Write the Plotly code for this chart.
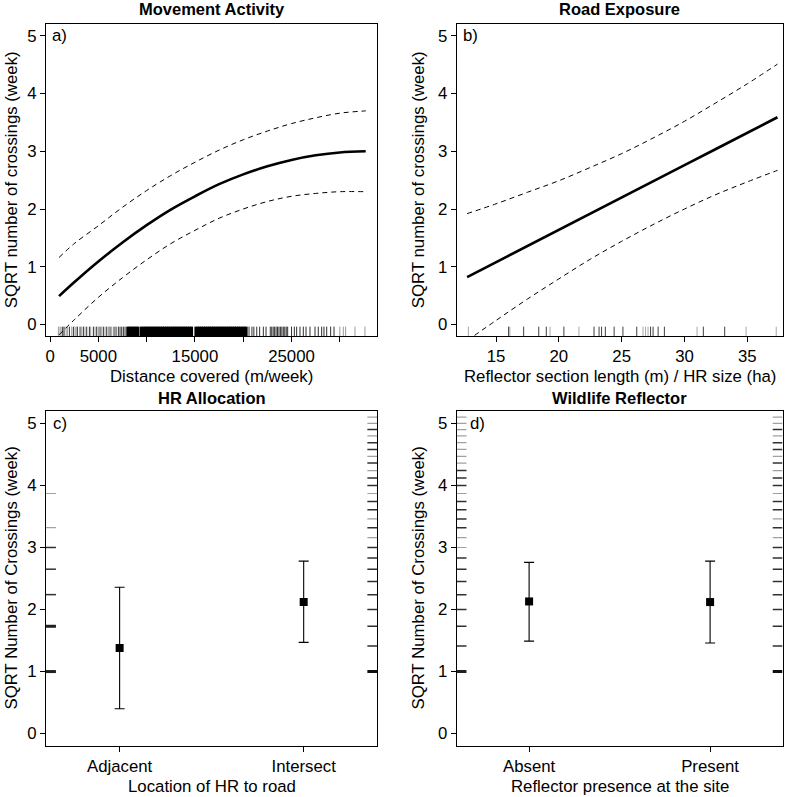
import plotly.graph_objects as go

# ---------------- data ----------------
# Panel a: Movement Activity
dist_x = [930, 2500, 5000, 7500, 10000, 12500, 15000, 17500, 20000, 22500, 25000, 27500, 30000, 32680]
dist_fit = [0.49, 0.73, 1.09, 1.42, 1.72, 1.99, 2.22, 2.43, 2.60, 2.74, 2.85, 2.93, 2.98, 3.00]
dist_upper = [1.16, 1.40, 1.71, 2.03, 2.32, 2.58, 2.81, 3.02, 3.20, 3.35, 3.48, 3.58, 3.66, 3.70]
dist_lower = [-0.18, 0.08, 0.47, 0.81, 1.12, 1.40, 1.63, 1.84, 2.00, 2.13, 2.22, 2.27, 2.30, 2.30]
dist_rug_gray = [862, 1035, 1140, 1656, 1794, 2243, 2588, 2691, 3278, 3623, 4209, 4658, 5003, 5348,
                 5693, 6038, 6383, 30000, 30360, 30600, 31570, 32600]
dist_rug_dark = [1310, 1450, 2001, 2415, 2829, 3105, 3450, 3795, 4071, 4485, 4830, 5175, 5520, 5865,
                 6210, 6624, 6831, 7073, 7245, 7418, 7590, 7763, 7935,
                 20600, 20900, 21100, 21400, 21700, 22080, 22360,
                 22800, 22950, 23100, 23250, 23400, 23550, 23700, 23850, 24000, 24150, 24300, 24450, 24600,
                 25000, 25290, 25530, 25875, 26220, 26500, 26910, 27430, 27770, 28120, 28360, 28640,
                 29050, 29400]
dist_rug_dense = [8100, 8300, 8500, 8700, 8900, 9100, 9450, 9650, 9850, 10050, 10250, 10450, 10650,
                  10850, 11050, 11250, 11450, 11650, 11850, 12050, 12250, 12450, 12650, 12850, 13050,
                  13250, 13450, 13650, 13850, 14050, 14250, 14450, 14650, 15100, 15300, 15500, 15700,
                  15900, 16100, 16300, 16500, 16700, 16900, 17100, 17300, 17500, 17700, 17900, 18100,
                  18300, 18500, 18700, 18900, 19100, 19300, 19500, 19700, 19900, 20100, 20300]
dist_ticks = [0, 5000, 10000, 15000, 20000, 25000, 30000]
dist_ticklabels = ["0", "5000", "", "15000", "", "25000", ""]

# Panel b: Road Exposure
refl_x = [12.7, 15, 17.5, 20, 22.5, 25, 27.5, 30, 32.5, 35, 37.4]
refl_fit = [0.82, 1.08, 1.36, 1.64, 1.92, 2.20, 2.48, 2.76, 3.04, 3.32, 3.59]
refl_upper = [1.92, 2.09, 2.29, 2.49, 2.72, 2.96, 3.23, 3.52, 3.84, 4.17, 4.51]
refl_lower = [-0.28, 0.07, 0.44, 0.79, 1.13, 1.44, 1.73, 2.00, 2.25, 2.47, 2.67]
refl_rug_gray = [12.8, 16.1, 19.3, 21.6, 26.7, 26.9, 27.1, 31.0, 34.9, 37.3]
refl_rug_dark = [16.0, 17.2, 18.4, 19.0, 20.4, 22.8, 23.2, 23.4, 23.7, 24.4, 25.1, 26.2, 27.3, 27.5,
                 27.9, 28.4, 31.5, 33.2]
refl_ticks = [15, 20, 25, 30, 35]

# Panel c: HR Allocation
hr_cats = ["Adjacent", "Intersect"]
hr_mean = [1.38, 2.12]
hr_upper = [2.36, 2.78]
hr_lower = [0.40, 1.47]
hr_rug_left_thick = [1.00, 1.73]
hr_rug_left_dark = [2.24, 2.65, 3.00]
hr_rug_left_gray = [3.32, 3.87]
hr_rug_right_thick = [1.00]
hr_rug_right_dark = [1.41, 1.73, 2.00, 2.24, 2.45, 2.65, 2.83, 3.00, 3.32, 3.61, 3.74, 4.00, 4.12,
                     4.36, 4.58, 4.69, 4.90]
hr_rug_right_gray = [3.16, 3.46, 3.87, 4.24, 4.47, 4.80, 5.00, 5.10]

# Panel d: Wildlife Reflector
wr_cats = ["Absent", "Present"]
wr_mean = [2.13, 2.12]
wr_upper = [2.76, 2.78]
wr_lower = [1.49, 1.46]
wr_rug_left_thick = [1.00]
wr_rug_left_dark = [1.41, 1.73, 2.00, 2.24, 2.45, 2.65, 2.83, 3.32, 3.46, 3.61, 3.74, 4.00, 4.12, 4.24]
wr_rug_left_gray = [3.00, 3.16, 3.87, 4.36, 4.47, 4.58, 4.69, 4.80, 4.90, 5.00, 5.10]
wr_rug_right_thick = [1.00]
wr_rug_right_dark = [1.41, 1.73, 2.00, 2.24, 2.45, 2.65, 2.83, 3.00, 3.32, 3.61, 3.74, 4.00, 4.12,
                     4.36, 4.58, 4.69, 4.90]
wr_rug_right_gray = [3.16, 3.46, 3.87, 4.24, 4.47, 4.80, 5.00, 5.10]

y_ticks = [0, 1, 2, 3, 4, 5]

# ---------------- layout geometry ----------------
W, H = 789, 797
TOP_BOX = (24.3, 336.0)
BOT_BOX = (411.0, 746.0)
XD_L = [46 / W, 377.3 / W]
XD_R = [456.7 / W, 782.5 / W]
YD_T = [1 - TOP_BOX[1] / H, 1 - TOP_BOX[0] / H]
YD_B = [1 - BOT_BOX[1] / H, 1 - BOT_BOX[0] / H]
Y_RANGE = [-0.2, 5.2]
A_RANGE = [-420, 33880]
B_RANGE = [11.87, 37.80]
C_RANGE = [0.6, 2.4]

FONT = "Liberation Sans, Arial, sans-serif"
FS = 16.8

fig = go.Figure()


def vrug(values, y0, y1):
    xs, ys = [], []
    for v in values:
        xs += [v, v, None]
        ys += [y0, y1, None]
    return xs, ys


def hrug(values, x0, x1):
    xs, ys = [], []
    for v in values:
        xs += [x0, x1, None]
        ys += [v, v, None]
    return xs, ys


def add_line(x, y, ax, width, color, dash="solid", shape="linear"):
    fig.add_trace(go.Scatter(x=x, y=y, mode="lines", xaxis=ax[0], yaxis=ax[1],
                             line=dict(color=color, width=width, dash=dash, shape=shape),
                             showlegend=False, hoverinfo="skip"))


rug_h = 0.03 * (Y_RANGE[1] - Y_RANGE[0])
ry0, ry1 = Y_RANGE[0], Y_RANGE[0] + rug_h

# Panel a
ax = ("x", "y")
add_line(*vrug(dist_rug_gray, ry0, ry1), ax, 1, "#9a9a9a")
add_line(*vrug(dist_rug_dark, ry0, ry1), ax, 1, "#303030")
add_line(*vrug(dist_rug_dense, ry0, ry1), ax, 3, "#000000")
add_line(dist_x, dist_upper, ax, 1, "black", "5px,4px", "spline")
add_line(dist_x, dist_lower, ax, 1, "black", "5px,4px", "spline")
add_line(dist_x, dist_fit, ax, 2.6, "black", "solid", "spline")

# Panel b
ax = ("x2", "y2")
add_line(*vrug(refl_rug_gray, ry0, ry1), ax, 1, "#a8a8a8")
add_line(*vrug(refl_rug_dark, ry0, ry1), ax, 1, "#404040")
add_line(refl_x, refl_upper, ax, 1, "black", "5px,4px", "spline")
add_line(refl_x, refl_lower, ax, 1, "black", "5px,4px", "spline")
add_line(refl_x, refl_fit, ax, 2.6, "black")

rug_w = 0.03 * (C_RANGE[1] - C_RANGE[0])
lx0, lx1 = C_RANGE[0], C_RANGE[0] + rug_w
rx0, rx1 = C_RANGE[1] - rug_w, C_RANGE[1]


def cat_panel(ax, cats, mean, upper, lower, lthick, ldark, lgray, rthick, rdark, rgray):
    add_line(*hrug(lgray, lx0, lx1), ax, 1.2, "#a0a0a0")
    add_line(*hrug(ldark, lx0, lx1), ax, 1.5, "#303030")
    add_line(*hrug(lthick, lx0, lx1), ax, 3, "#202020")
    add_line(*hrug(rgray, rx0, rx1), ax, 1.2, "#a0a0a0")
    add_line(*hrug(rdark, rx0, rx1), ax, 1.5, "#303030")
    add_line(*hrug(rthick, rx0, rx1), ax, 3, "#101010")
    pos = [i + 1 for i in range(len(cats))]
    fig.add_trace(go.Scatter(
        x=pos, y=mean, mode="markers", xaxis=ax[0], yaxis=ax[1],
        marker=dict(symbol="square", size=8, color="black"),
        error_y=dict(type="data", symmetric=False,
                     array=[u - m for u, m in zip(upper, mean)],
                     arrayminus=[m - l for m, l in zip(mean, lower)],
                     color="black", thickness=1.1, width=5),
        showlegend=False, hoverinfo="skip"))


cat_panel(("x3", "y3"), hr_cats, hr_mean, hr_upper, hr_lower,
          hr_rug_left_thick, hr_rug_left_dark, hr_rug_left_gray,
          hr_rug_right_thick, hr_rug_right_dark, hr_rug_right_gray)
cat_panel(("x4", "y4"), wr_cats, wr_mean, wr_upper, wr_lower,
          wr_rug_left_thick, wr_rug_left_dark, wr_rug_left_gray,
          wr_rug_right_thick, wr_rug_right_dark, wr_rug_right_gray)


def axis_style(domain, rng, tickvals, ticktext=None, anchor=None):
    d = dict(domain=domain, range=rng, tickvals=tickvals, showgrid=False, zeroline=False,
             showline=True, mirror=True, linecolor="black", linewidth=1,
             ticks="outside", ticklen=5, tickwidth=1, tickcolor="black",
             tickfont=dict(family=FONT, size=FS, color="black"), anchor=anchor)
    if ticktext is not None:
        d["ticktext"] = ticktext
    return d


fig.update_layout(
    width=W, height=H, autosize=False,
    margin=dict(l=0, r=0, t=0, b=0),
    paper_bgcolor="white", plot_bgcolor="white",
    xaxis=axis_style(XD_L, A_RANGE, dist_ticks, dist_ticklabels, "y"),
    yaxis=axis_style(YD_T, Y_RANGE, y_ticks, anchor="x"),
    xaxis2=axis_style(XD_R, B_RANGE, refl_ticks, anchor="y2"),
    yaxis2=axis_style(YD_T, Y_RANGE, y_ticks, anchor="x2"),
    xaxis3=axis_style(XD_L, C_RANGE, [1, 2], hr_cats, "y3"),
    yaxis3=axis_style(YD_B, Y_RANGE, y_ticks, anchor="x3"),
    xaxis4=axis_style(XD_R, C_RANGE, [1, 2], wr_cats, "y4"),
    yaxis4=axis_style(YD_B, Y_RANGE, y_ticks, anchor="x4"),
)

# (suffix, title, tag, x title, y title, y-title x px, box left px, box width px, tag offset px, box, title gap, x-title gap)
panels = [
    ("", "Movement Activity", "a)", "Distance covered (m/week)", "SQRT number of crossings (week)", 11, 46, 331.3, 4, TOP_BOX, 15.5, 40.5),
    ("2", "Road Exposure", "b)", "Reflector section length (m) / HR size (ha)", "SQRT number of crossings (week)", 418, 456.7, 325.8, 4, TOP_BOX, 15.5, 40.5),
    ("3", "HR Allocation", "c)", "Location of HR to road", "SQRT Number of Crossings (week)", 11, 46, 331.3, 5, BOT_BOX, 13.5, 40),
    ("4", "Wildlife Reflector", "d)", "Reflector presence at the site", "SQRT Number of Crossings (week)", 418, 456.7, 325.8, 11, BOT_BOX, 13.5, 40),
]
for suf, title, tag, xtitle, ytitle, ytx, left, width, tagoff, box, tgap, xgap in panels:
    bh = box[1] - box[0]
    unit = bh / (Y_RANGE[1] - Y_RANGE[0])
    xr, yr = f"x{suf} domain", f"y{suf} domain"
    fig.add_annotation(xref=xr, yref=yr, x=0.5, y=1 + tgap / bh, text=f"<b>{title}</b>",
                       showarrow=False, xanchor="center", yanchor="middle",
                       font=dict(family=FONT, size=16.5, color="black"))
    fig.add_annotation(xref=xr, yref=yr, x=tagoff / width, y=1 - 0.2 * unit / bh, text=tag,
                       showarrow=False, xanchor="left", yanchor="middle",
                       font=dict(family=FONT, size=FS, color="black"))
    fig.add_annotation(xref=xr, yref=yr, x=0.5, y=-xgap / bh, text=xtitle,
                       showarrow=False, xanchor="center", yanchor="middle",
                       font=dict(family=FONT, size=FS, color="black"))
    fig.add_annotation(xref=xr, yref=yr, x=(ytx - left) / width, y=0.5, text=ytitle,
                       showarrow=False, xanchor="center", yanchor="middle", textangle=-90,
                       font=dict(family=FONT, size=FS, color="black"))

fig.write_html("out.html", config={"displayModeBar": False},
               post_script="document.body.style.margin='0';document.body.style.overflow='hidden';")
